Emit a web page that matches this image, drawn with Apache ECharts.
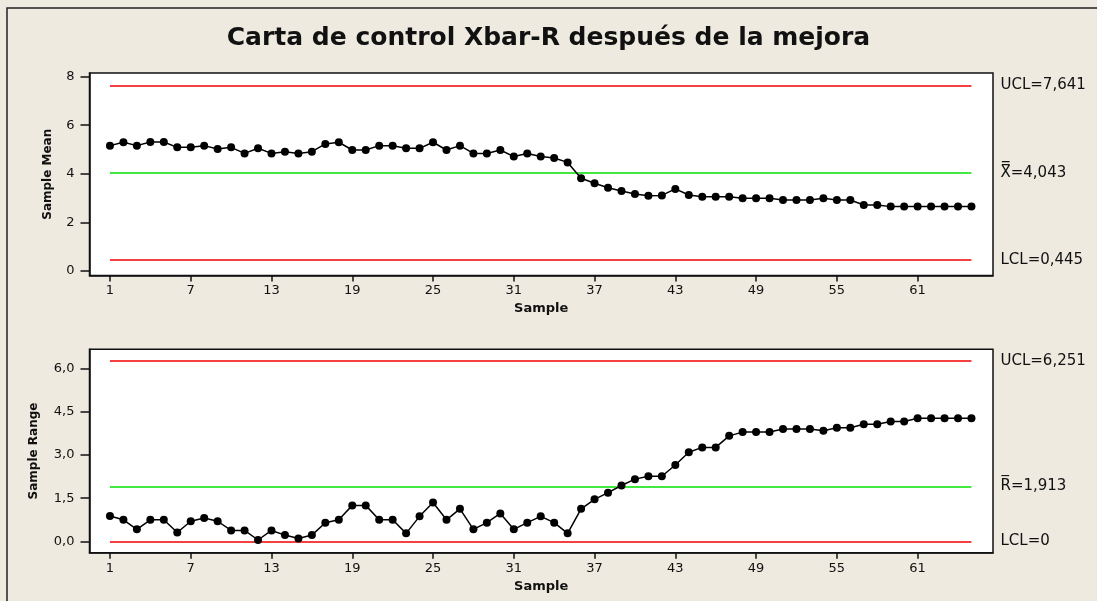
<!DOCTYPE html>
<html>
<head>
<meta charset="utf-8">
<script src="https://cdn.jsdelivr.net/npm/echarts@6/dist/echarts.min.js"></script>
<style>
html,body{margin:0;padding:0;background:#EEEAE0;}
#c{width:1097px;height:601px;}
</style>
</head>
<body>
<div id="c"></div>
<script>
// ---- data ----
const titleText = 'Carta de control Xbar-R después de la mejora';
const sampleTicks = [1, 7, 13, 19, 25, 31, 37, 43, 49, 55, 61];
const meanTicks = [0, 2, 4, 6, 8];
const rangeTicks = [0, 1.5, 3, 4.5, 6];
const sampleMeans = [
  5.16, 5.30, 5.16, 5.31, 5.31, 5.09, 5.09, 5.16, 5.02, 5.09,
  4.84, 5.05, 4.84, 4.91, 4.84, 4.91, 5.23, 5.30, 4.98, 4.98,
  5.16, 5.16, 5.05, 5.05, 5.30, 4.98, 5.16, 4.84, 4.84, 4.98,
  4.71, 4.84, 4.71, 4.65, 4.47, 3.82, 3.61, 3.43, 3.29, 3.17,
  3.10, 3.11, 3.38, 3.13, 3.06, 3.06, 3.06, 2.99, 2.99, 2.99,
  2.92, 2.92, 2.92, 2.99, 2.92, 2.92, 2.72, 2.72, 2.65, 2.65,
  2.65, 2.65, 2.65, 2.65, 2.65
];
const sampleRanges = [
  0.88, 0.75, 0.42, 0.75, 0.75, 0.31, 0.70, 0.81, 0.70, 0.38,
  0.38, 0.05, 0.38, 0.22, 0.10, 0.22, 0.65, 0.75, 1.25, 1.25,
  0.75, 0.75, 0.28, 0.87, 1.35, 0.75, 1.13, 0.42, 0.65, 0.97,
  0.42, 0.65, 0.87, 0.65, 0.28, 1.13, 1.46, 1.69, 1.94, 2.16,
  2.26, 2.26, 2.65, 3.09, 3.26, 3.26, 3.66, 3.79, 3.79, 3.79,
  3.90, 3.90, 3.90, 3.84, 3.94, 3.94, 4.06, 4.06, 4.16, 4.16,
  4.27, 4.27, 4.27, 4.27, 4.27
];
const meanLimits = {ucl: 7.641, center: 4.043, lcl: 0.445};
const rangeLimits = {ucl: 6.251, center: 1.913, lcl: 0};
const meanLimitLabels = ['UCL=7,641', 'X\u033F=4,043', 'LCL=0,445'];
const rangeLimitLabels = ['UCL=6,251', 'R\u0305=1,913', 'LCL=0'];

// ---- chart ----
const RED = '#F00000', GREEN = '#00E000';
const FONT = 'DejaVu Sans, Verdana, sans-serif';
const firstSample = 1, lastSample = sampleMeans.length;

function pairs(arr){ return arr.map((v,i)=>[i+1, v]); }
function limitLines(lim, labels){
  const vals = [lim.ucl, lim.center, lim.lcl];
  const cols = [RED, GREEN, RED];
  return vals.map((v,k)=>[
    {coord:[firstSample, v], lineStyle:{color:cols[k], width:1.6, type:'solid'},
     label:{show:true, position:'end', formatter:labels[k], distance:29, color:'#111', fontSize:15, fontFamily:FONT, align:'left', verticalAlign:'middle'}},
    {coord:[lastSample, v]}
  ]);
}
function xAxis(gi){
  return {
    type:'value', gridIndex:gi, min:-0.52, max:66.6,
    name:'Sample', nameLocation:'middle', nameGap:27,
    nameTextStyle:{fontFamily:FONT, fontWeight:'bold', fontSize:13, color:'#111'},
    axisLine:{show:true, onZero:false, lineStyle:{color:'#111', width:1.5}},
    axisTick:{show:true, length:6, customValues:sampleTicks, lineStyle:{color:'#111', width:1.5}},
    axisLabel:{customValues:sampleTicks, fontFamily:FONT, fontSize:13, color:'#111', margin:9},
    splitLine:{show:false}
  };
}
function yAxis(gi, min, max, ticks, name, gap, fmt){
  return {
    type:'value', gridIndex:gi, min:min, max:max,
    name:name, nameLocation:'middle', nameGap:gap, nameRotate:90,
    nameTextStyle:{fontFamily:FONT, fontWeight:'bold', fontSize:12, color:'#111'},
    axisLine:{show:true, onZero:false, lineStyle:{color:'#111', width:1.5}},
    axisTick:{show:true, length:9, customValues:ticks, lineStyle:{color:'#111', width:1.5}},
    axisLabel:{customValues:ticks, fontFamily:FONT, fontSize:13, color:'#111', margin:15, formatter:fmt},
    splitLine:{show:false}
  };
}
const chart = echarts.init(document.getElementById('c'));
chart.setOption({
  backgroundColor:'#EEEAE0',
  animation:false,
  title:{text:titleText, left:'center', top:21,
    textStyle:{fontFamily:FONT, fontWeight:'bold', fontSize:25, color:'#111'}},
  graphic:[{type:'rect', shape:{x:7, y:8, width:1200, height:700},
    style:{fill:'none', stroke:'#222', lineWidth:1.5}, silent:true, z:-1}],
  grid:[
    {left:89.5, width:903.5, top:73, height:202.5, show:true, backgroundColor:'#fff', borderColor:'#111', borderWidth:1.5},
    {left:89.5, width:903.5, top:349.3, height:203.4, show:true, backgroundColor:'#fff', borderColor:'#111', borderWidth:1.5}
  ],
  xAxis:[xAxis(0), xAxis(1)],
  yAxis:[
    yAxis(0, -0.185, 8.15, meanTicks, 'Sample Mean', 36, v=>String(v)),
    yAxis(1, -0.39, 6.66, rangeTicks, 'Sample Range', 50, v=>v.toFixed(1).replace('.',','))
  ],
  series:[
    {type:'line', xAxisIndex:0, yAxisIndex:0, data:pairs(sampleMeans),
     symbol:'circle', symbolSize:8, lineStyle:{color:'#000', width:1.5}, itemStyle:{color:'#000'}, z:5,
     markLine:{silent:true, symbol:'none', animation:false, data:limitLines(meanLimits, meanLimitLabels)}},
    {type:'line', xAxisIndex:1, yAxisIndex:1, data:pairs(sampleRanges),
     symbol:'circle', symbolSize:8, lineStyle:{color:'#000', width:1.5}, itemStyle:{color:'#000'}, z:5,
     markLine:{silent:true, symbol:'none', animation:false, data:limitLines(rangeLimits, rangeLimitLabels)}}
  ]
});
</script>
</body>
</html>
